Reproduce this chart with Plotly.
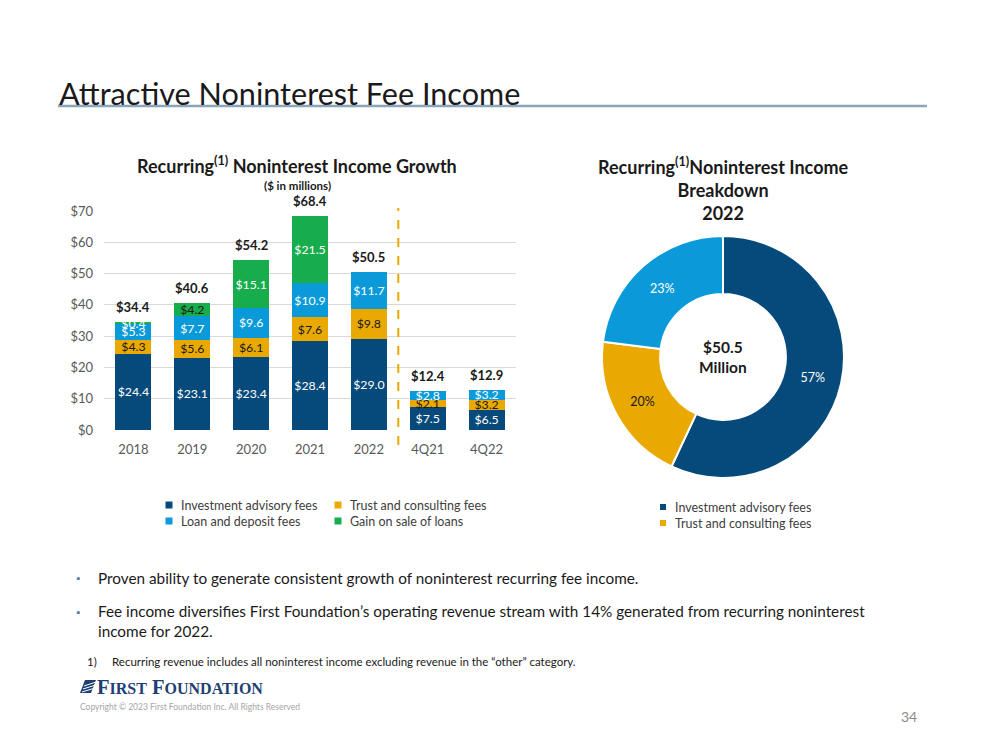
import plotly.graph_objects as go

W, H = 999, 750

# ---------------- data ----------------
categories = ["2018", "2019", "2020", "2021", "2022", "4Q21", "4Q22"]
investment_advisory = [24.4, 23.1, 23.4, 28.4, 29.0, 7.5, 6.5]
trust_consulting = [4.3, 5.6, 6.1, 7.6, 9.8, 2.1, 3.2]
loan_deposit = [5.3, 7.7, 9.6, 10.9, 11.7, 2.8, 3.2]
gain_on_sale = [0.4, 4.2, 15.1, 21.5, None, None, None]
totals = [34.4, 40.6, 54.2, 68.4, 50.5, 12.4, 12.9]

series_names = ["Investment advisory fees", "Trust and consulting fees",
                "Loan and deposit fees", "Gain on sale of loans"]
pie_labels = ["Investment advisory fees", "Trust and consulting fees", "Loan and deposit fees"]
pie_shares = [57, 20, 23]
pie_total_label = "$50.5<br>Million"

y_ticks = [0, 10, 20, 30, 40, 50, 60, 70]
y_tick_labels = ["$0", "$10", "$20", "$30", "$40", "$50", "$60", "$70"]

# ---------------- style ----------------
NAVY = "#054a7a"
GOLD = "#e9a900"
BLUE = "#0b9ad9"
GREEN = "#17ad4c"
DARK = "#1a1a1a"
GREY = "#595959"
FONT = "Lato, 'Open Sans', sans-serif"


def px(x):
    return x / W


def py(y):
    return 1 - y / H


def money(v):
    return "" if v is None else f"${v:.1f}"


fig = go.Figure()

series = [
    (series_names[0], investment_advisory, NAVY, ["white"] * 7),
    (series_names[1], trust_consulting, GOLD, [DARK] * 7),
    (series_names[2], loan_deposit, BLUE, ["white"] * 7),
    (series_names[3], gain_on_sale, GREEN, ["white", DARK, "white", "white", "white", "white", "white"]),
]
for name, vals, col, tcol in series:
    fig.add_trace(go.Bar(
        x=categories, y=vals, name=name, marker=dict(color=col, line=dict(width=0)),
        text=[money(v) for v in vals], textposition="inside", insidetextanchor="middle",
        constraintext="none", textangle=0,
        textfont=dict(color=tcol, size=12.3, family=FONT),
        showlegend=False, hoverinfo="skip",
    ))

fig.add_trace(go.Pie(
    labels=pie_labels, values=pie_shares, sort=False, direction="clockwise", rotation=0,
    hole=0.52, marker=dict(colors=[NAVY, GOLD, BLUE], line=dict(color="white", width=2)),
    texttemplate="%{value}%", textposition="inside", insidetextorientation="horizontal",
    textfont=dict(color=["white", DARK, "white"], size=12.5, family=FONT),
    domain=dict(x=[px(602), px(844)], y=[py(478), py(236)]),
    showlegend=False, hoverinfo="skip",
))

fig.update_layout(
    width=W, height=H, margin=dict(l=0, r=0, t=0, b=0, autoexpand=False),
    paper_bgcolor="white", plot_bgcolor="white", showlegend=False,
    font=dict(family=FONT, color=DARK),
    barmode="stack", bargap=0.39,
    xaxis=dict(domain=[px(104), px(516)], type="category", categoryorder="array",
               categoryarray=categories, range=[-0.5, len(categories) - 0.5],
               showgrid=False, showline=False, zeroline=False, ticklabelstandoff=10,
               ticks="", tickfont=dict(size=13, color=GREY), anchor="y", automargin=False),
    yaxis=dict(domain=[py(430), py(211)], range=[0, 70], tickvals=y_ticks, ticktext=y_tick_labels,
               showgrid=True, gridcolor="#d9d9d9", gridwidth=1, zeroline=False, showline=False,
               ticklabelstandoff=10,
               ticks="", tickfont=dict(size=13, color=GREY), anchor="x", automargin=False),
)

ann = []

# totals above the bars, placed in data coordinates (category index, value)
for i, t in enumerate(totals):
    ann.append(dict(x=i, y=t, xref="x", yref="y", text=money(t), showarrow=False,
                    yanchor="bottom", yshift=5,
                    font=dict(size=13, color=DARK, family=FONT, weight="bold")))


def text(x, y, s, size, color=DARK, bold=False, xanchor="left", yanchor="middle", align="left", family=FONT):
    ann.append(dict(x=px(x), y=py(y), xref="paper", yref="paper", text=s, showarrow=False,
                    xanchor=xanchor, yanchor=yanchor, align=align,
                    font=dict(size=size, color=color, family=family, weight="bold" if bold else "normal")))


text(57, 93, "Attractive Noninterest Fee Income", 30.6, color="#1a1a1a")
text(297, 165, "Recurring<sup>(1)</sup> Noninterest Income Growth", 18, bold=True, xanchor="center")
text(297, 185, "($ in millions)", 11.5, bold=True, xanchor="center")
text(723, 189, "Recurring<sup>(1)</sup>Noninterest Income<br>Breakdown<br>2022", 18, bold=True,
     xanchor="center", align="center")
text(723, 357, pie_total_label, 15.5, bold=True, xanchor="center", align="center")

# legends (bar chart: 2x2 grid, pie: single column)
legend_items = [
    (series_names[0], NAVY, 169, 505),
    (series_names[1], GOLD, 338, 505),
    (series_names[2], BLUE, 169, 521),
    (series_names[3], GREEN, 338, 521),
    (pie_labels[0], NAVY, 663, 507),
    (pie_labels[1], GOLD, 663, 523),
]
shapes = []
for name, col, lx, ly in legend_items:
    s = 3.5 if lx < 600 else 3
    shapes.append(dict(type="rect", xref="paper", yref="paper",
                       x0=px(lx - s), x1=px(lx + s), y0=py(ly + s), y1=py(ly - s),
                       fillcolor=col, line=dict(width=0)))
    text(lx + 10, ly, name, 12.5, color="#404040")

text(78, 578, "▪", 10, color="#54779e", xanchor="center")
text(96, 578, "Proven ability to generate consistent growth of noninterest recurring fee income.", 15.3)
text(78, 612, "▪", 10, color="#54779e", xanchor="center")
text(96, 621, "Fee income diversifies First Foundation’s operating revenue stream with 14% generated from recurring noninterest<br>income for 2022.", 15.3)
text(85, 661, "1)", 11.5)
text(110, 661, "Recurring revenue includes all noninterest income excluding revenue in the \u201cother\u201d category.", 11.5)
text(95, 687, "F<span style='font-size:16px'>IRST</span> F<span style='font-size:16px'>OUNDATION</span>", 20.5,
     color="#1d3f73", bold=True, family="'Liberation Serif', 'DejaVu Serif', serif")
text(78, 707, "Copyright © 2023 First Foundation Inc. All Rights Reserved", 8.5, color="#a6a6a6")
text(919, 716, "34", 14, color="#8c8c8c", xanchor="right")

fig.update_layout(annotations=ann)

shapes += [
    # title underline
    dict(type="line", xref="paper", yref="paper", x0=px(58), x1=px(927), y0=py(106), y1=py(106),
         line=dict(color="#8aa4bb", width=2.5)),
    # divider between annual and quarterly bars
    dict(type="line", xref="x", yref="paper", x0=4.5, x1=4.5, y0=py(445), y1=py(208),
         line=dict(color=GOLD, width=2, dash="dash")),
    # logo mark
    dict(type="path", xref="paper", yref="paper",
         path=f"M {px(80)},{py(693)} L {px(85)},{py(680)} L {px(96)},{py(680)} L {px(91)},{py(693)} Z",
         fillcolor="#1d3f73", line=dict(width=0)),
]
for k in range(3):
    y0 = 684 + k * 3
    shapes.append(dict(type="line", xref="paper", yref="paper",
                       x0=px(84 - k), x1=px(96 - k * 0.5), y0=py(y0 + 2), y1=py(y0 - 2),
                       line=dict(color="white", width=1)))
fig.update_layout(shapes=shapes)

fig.write_html("out.html", config={"displayModeBar": False},
               post_script="document.body.style.margin='0';")
